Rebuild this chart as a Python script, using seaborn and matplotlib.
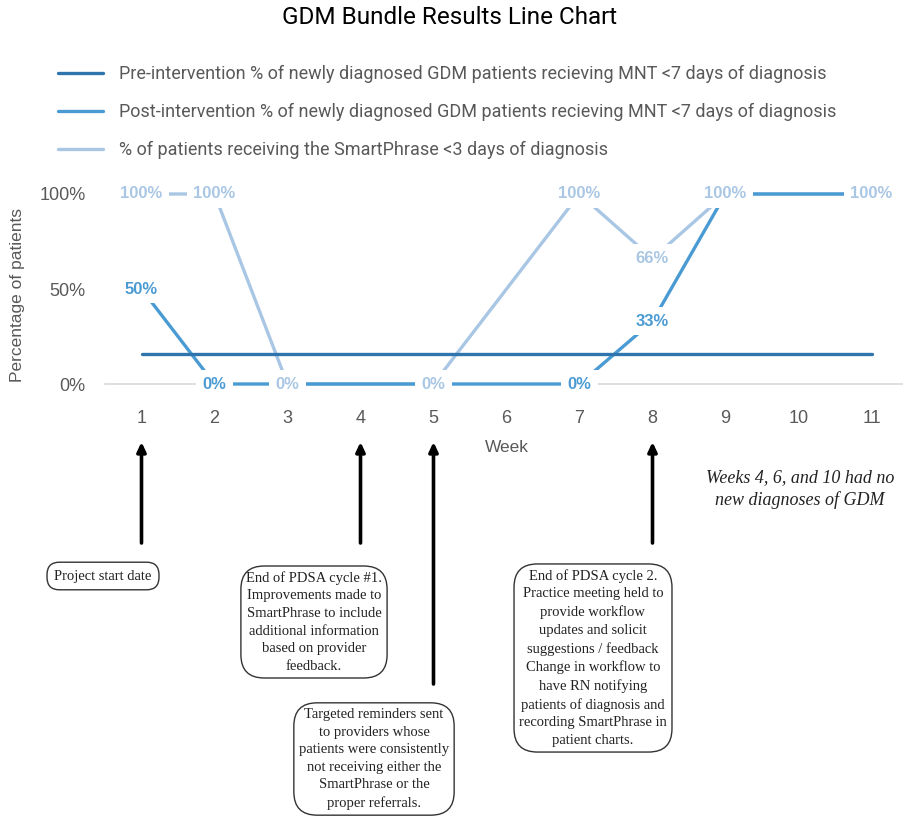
import matplotlib
matplotlib.use("Agg")
import matplotlib.pyplot as plt
import seaborn as sns
import pandas as pd

# weeks with new GDM diagnoses (4, 6 and 10 had none)
weeks = [1, 2, 3, 5, 7, 8, 9, 11]
post_pct = [50, 0, 0, 0, 0, 33, 100, 100]
smart_pct = [100, 100, 0, 0, 100, 66, 100, 100]
pre_weeks = [1, 2, 3, 4, 5, 6, 7, 8, 9, 10, 11]
pre_pct = [16, 16, 16, 16, 16, 16, 16, 16, 16, 16, 16]

week_ticks = [1, 2, 3, 4, 5, 6, 7, 8, 9, 10, 11]
pct_ticks = [0, 50, 100]

series_names = [
    "Pre-intervention % of newly diagnosed GDM patients recieving MNT <7 days of diagnosis",
    "Post-intervention % of newly diagnosed GDM patients recieving MNT <7 days of diagnosis",
    "% of patients receiving the SmartPhrase <3 days of diagnosis",
]

notes = [
    (1, "Project start date"),
    (4, "End of PDSA cycle #1.\nImprovements made to\nSmartPhrase to include\nadditional information\nbased on provider\nfeedback."),
    (5, "Targeted reminders sent\nto providers whose\npatients were consistently\nnot receiving either the\nSmartPhrase or the\nproper referrals."),
    (8, "End of PDSA cycle 2.\nPractice meeting held to\nprovide workflow\nupdates and solicit\nsuggestions / feedback\nChange in workflow to\nhave RN notifying\npatients of diagnosis and\nrecording SmartPhrase in\npatient charts."),
]
side_note = "Weeks 4, 6, and 10 had no\nnew diagnoses of GDM"

pre_color = "#2f74ad"
post_color = "#4a9bd3"
smart_color = "#a9c7e4"
grey = "#595959"

sns.set_style("white")
plt.rcParams["font.family"] = ["Liberation Sans", "DejaVu Sans"]
narrow = ["Roboto", "DejaVu Sans"]
serif = ["Liberation Serif", "DejaVu Serif"]

W, H = 904, 821
fig = plt.figure(figsize=(W / 100, H / 100), dpi=100)


def fy(py):
    return 1 - py / H


ax = fig.add_axes([105 / W, fy(384), 803 / W, 190 / H])

post_df = pd.DataFrame({"week": weeks, "pct": post_pct})
smart_df = pd.DataFrame({"week": weeks, "pct": smart_pct})
pre_df = pd.DataFrame({"week": pre_weeks, "pct": pre_pct})

sns.lineplot(data=pre_df, x="week", y="pct", color=pre_color, lw=2.4, label=series_names[0], ax=ax, zorder=4)
sns.lineplot(data=post_df, x="week", y="pct", color=post_color, lw=2.4, label=series_names[1], ax=ax, zorder=3)
sns.lineplot(data=smart_df, x="week", y="pct", color=smart_color, lw=2.4, label=series_names[2], ax=ax, zorder=2)
for line in ax.get_lines():
    line.set_clip_on(False)

for w, v in zip(weeks, post_pct):
    ax.text(w, v, f"{v}%", color=post_color, fontsize=12, fontweight="bold", ha="center", va="center",
            zorder=6, bbox=dict(boxstyle="square,pad=0.4", fc="white", ec="none"))
for w, v in zip(weeks, smart_pct):
    ax.text(w, v, f"{v}%", color=smart_color, fontsize=12, fontweight="bold", ha="center", va="center",
            zorder=7, bbox=dict(boxstyle="square,pad=0.4", fc="white", ec="none"))

ax.set_xlim(0.5, 11.5)
ax.set_ylim(0, 100)
ax.set_xticks(week_ticks)
ax.set_yticks(pct_ticks)
ax.set_yticklabels([f"{t}%" for t in pct_ticks])
ax.tick_params(axis="both", length=0, labelsize=13, labelcolor=grey)
ax.tick_params(axis="x", pad=19)
ax.tick_params(axis="y", pad=14)
for s in ["top", "right", "left"]:
    ax.spines[s].set_visible(False)
ax.spines["bottom"].set_color("#d9d9d9")
ax.spines["bottom"].set_linewidth(1.2)
ax.spines["bottom"].set_zorder(1)

ax.set_xlabel("Week", fontsize=12.5, color=grey, labelpad=9)
ax.set_ylabel("Percentage of patients", fontsize=12.5, color=grey)
ax.yaxis.set_label_coords(-0.1, 0.47)

leg = ax.legend(loc="upper left", bbox_to_anchor=(58 / W, fy(65)), bbox_transform=fig.transFigure,
                frameon=False, labelcolor=grey, handlelength=2.5, handletextpad=0.9,
                labelspacing=1.1, borderpad=0, borderaxespad=0, prop={"family": narrow, "size": 13})

fig.text(450 / W, fy(18), "GDM Bundle Results Line Chart", ha="center", va="center",
         fontsize=17.5, color="black", family=narrow)

# arrows from the milestone notes up to their week
arrow_tails = {1: 543, 4: 543, 5: 684, 8: 543}
box_centres = {1: (103, 576), 4: (314, 622), 5: (374, 759), 8: (593, 658)}
box_style = {1: "round,pad=0.5,rounding_size=0.85",
             4: "round,pad=0.35,rounding_size=1.6",
             5: "round,pad=0.35,rounding_size=1.6",
             8: "round,pad=0.35,rounding_size=1.6"}
for w, txt in notes:
    ax.annotate("", xy=(w, fy(442)), xycoords=("data", "figure fraction"),
                xytext=(w, fy(arrow_tails[w])), textcoords=("data", "figure fraction"),
                arrowprops=dict(arrowstyle="-|>,head_length=0.55,head_width=0.26", lw=2.6, color="black",
                                shrinkA=0, shrinkB=0))
    bx, by = box_centres[w]
    fig.text(bx / W, fy(by), txt, ha="center", va="center", fontsize=10.5, family=serif,
             linespacing=1.46, color="#222222",
             bbox=dict(boxstyle=box_style[w], fc="white", ec="#333333", lw=1))

fig.text(800 / W, fy(489), side_note, ha="center", va="center", fontsize=13, style="italic",
         family=serif, linespacing=1.35, color="#222222")

fig.savefig("out.png", dpi=100)
